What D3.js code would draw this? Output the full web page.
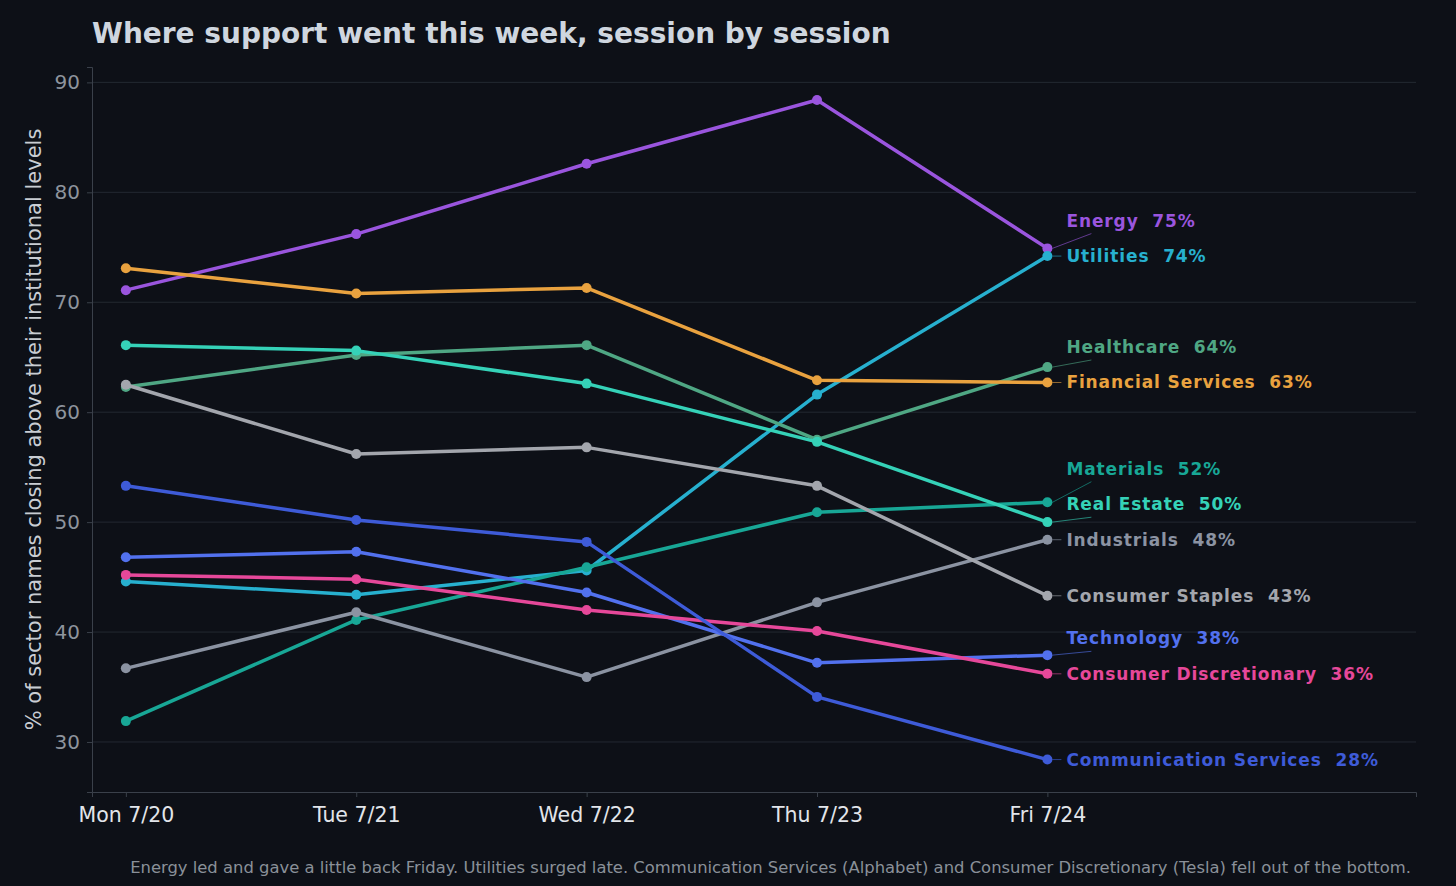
<!DOCTYPE html>
<html><head><meta charset="utf-8">
<script src="https://cdn.jsdelivr.net/npm/d3@7"></script>
<style>body{margin:0;background:#0d1017;}svg{display:block;font-family:"DejaVu Sans",sans-serif;}</style>
</head><body>
<script>
const days = ["Mon 7/20","Tue 7/21","Wed 7/22","Thu 7/23","Fri 7/24"];
const yTicks = [30,40,50,60,70,80,90];
const sectors = ["Energy","Utilities","Healthcare","Financial Services","Materials","Real Estate","Industrials","Consumer Staples","Technology","Consumer Discretionary","Communication Services"];
const colors = ["#9a55de","#27b0cf","#4fa784","#e9a23f","#18a796","#35d2b8","#8b93a2","#a3a6ad","#5271ee","#e6489a","#3e5bd8"];
const energy = [71.1,76.2,82.6,88.4,74.9];
const utilities = [44.6,43.4,45.6,61.6,74.2];
const healthcare = [62.3,65.2,66.1,57.5,64.1];
const financial = [73.1,70.8,71.3,62.9,62.7];
const materials = [31.9,41.1,45.9,50.9,51.8];
const realEstate = [66.1,65.6,62.6,57.3,50.0];
const industrials = [36.7,41.8,35.9,42.7,48.4];
const consumerStaples = [62.5,56.2,56.8,53.3,43.3];
const technology = [46.8,47.3,43.6,37.2,37.9];
const consumerDisc = [45.2,44.8,42.0,40.1,36.2];
const commServices = [53.3,50.2,48.2,34.1,28.4];
const labelPct = ["75%","74%","64%","63%","52%","50%","48%","43%","38%","36%","28%"];
const title = "Where support went this week, session by session";
const yLabel = "% of sector names closing above their institutional levels";
const caption = "Energy led and gave a little back Friday. Utilities surged late. Communication Services (Alphabet) and Consumer Discretionary (Tesla) fell out of the bottom.";

const values=[energy,utilities,healthcare,financial,materials,realEstate,industrials,consumerStaples,technology,consumerDisc,commServices];
const W=1456,H=886,L=92,R=1416,T=67,B=792;
const svg=d3.select("body").append("svg").attr("width",W).attr("height",H);
svg.append("rect").attr("width",W).attr("height",H).attr("fill","#0d1017");
const x=d3.scaleLinear().domain([-0.147,5.6]).range([L,R]);
const y=d3.scaleLinear().domain([25.45,91.4]).range([B,T]);
svg.append("g").selectAll("line").data(yTicks).join("line")
 .attr("x1",L).attr("x2",R).attr("y1",d=>y(d)).attr("y2",d=>y(d)).attr("stroke","#232831").attr("stroke-width",1);
const ya=svg.append("g").attr("transform",`translate(${L},0)`).call(d3.axisLeft(y).tickValues(yTicks).tickSize(5).tickPadding(7));
ya.select(".domain").attr("stroke","#3a404a");
ya.selectAll(".tick line").attr("stroke","#3a404a");
ya.selectAll("text").attr("fill","#8e949d").style("font-size","20px").style("font-family","DejaVu Sans");
const xa=svg.append("g").attr("transform",`translate(0,${B})`).call(d3.axisBottom(x).tickValues(d3.range(days.length)).tickFormat(i=>days[i]).tickSize(5).tickPadding(10));
xa.select(".domain").attr("stroke","#3a404a");
xa.selectAll(".tick line").attr("stroke","#3a404a");
xa.selectAll("text").attr("fill","#e2e5ea").style("font-size","20.5px").style("font-family","DejaVu Sans");
svg.append("text").attr("x",92).attr("y",43).text(title).attr("fill","#cfd6df").style("font-size","28px").style("font-weight","bold");
svg.append("text").attr("transform",`translate(41,${(T+B)/2}) rotate(-90)`).attr("text-anchor","middle").text(yLabel).attr("fill","#c9cdd3").style("font-size","21px");
svg.append("text").attr("x",1411).attr("y",873).attr("text-anchor","end").text(caption).attr("fill","#8a9099").style("font-size","16.4px");
const line=d3.line().x((d,i)=>x(i)).y(d=>y(d));
values.forEach((v,k)=>{
  svg.append("path").attr("d",line(v)).attr("fill","none").attr("stroke",colors[k]).attr("stroke-width",3.5).attr("stroke-linejoin","round");
  svg.append("g").selectAll("circle").data(v).join("circle").attr("cx",(d,i)=>x(i)).attr("cy",d=>y(d)).attr("r",5).attr("fill",colors[k]);
});
const last=values.map((v,k)=>({k,py:y(v[v.length-1])})).sort((a,b)=>b.py-a.py);
let prev=Infinity;
last.forEach(o=>{o.ly=Math.min(o.py,prev-35.5);prev=o.ly;});
const xe=x(days.length-1);
last.forEach(o=>{
  const moved=o.py-o.ly>3;
  svg.append("line").attr("x1",xe+5).attr("y1",o.py).attr("x2",moved?xe+44:xe+14).attr("y2",moved?o.ly+13:o.ly).attr("stroke",colors[o.k]).attr("stroke-opacity",0.6).attr("stroke-width",1);
  svg.append("text").attr("x",xe+19).attr("y",o.ly).attr("dy","0.35em").text(sectors[o.k]+"\u00a0\u00a0"+labelPct[o.k])
   .attr("fill",colors[o.k]).style("font-size","17px").style("letter-spacing","0.9px").style("font-weight","bold");
});
</script>
</body></html>
